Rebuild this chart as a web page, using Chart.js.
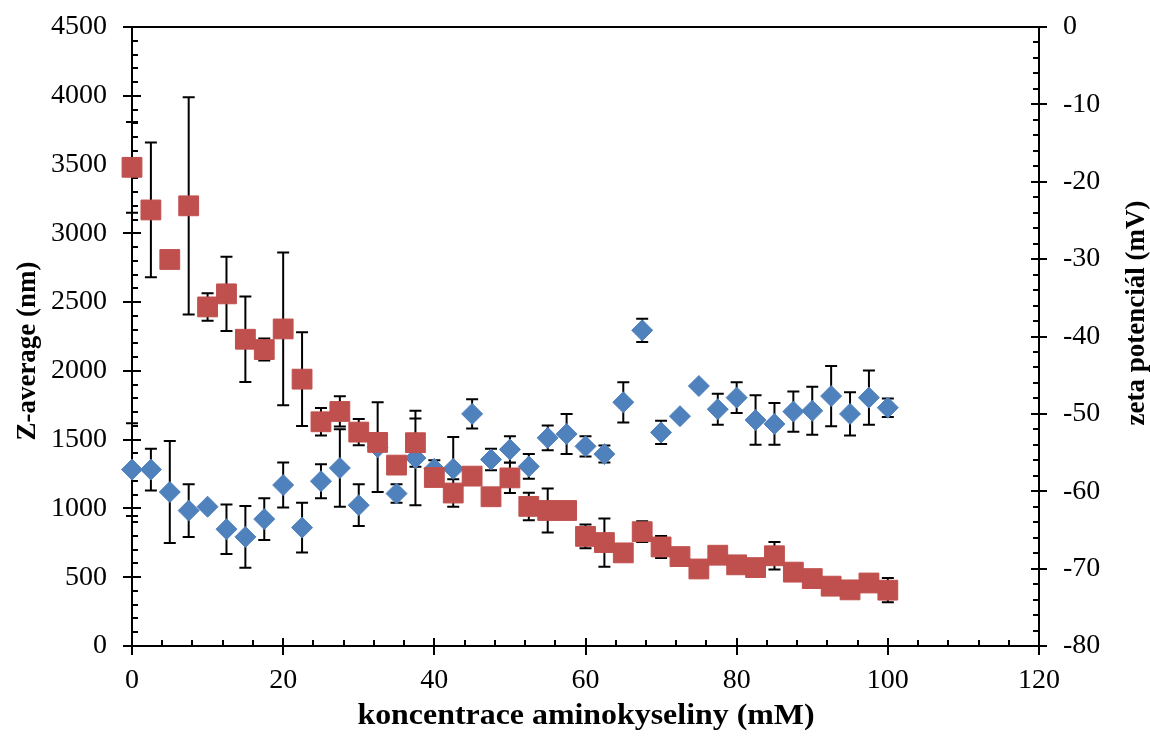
<!DOCTYPE html>
<html>
<head>
<meta charset="utf-8">
<script src="https://cdn.jsdelivr.net/npm/chart.js@4"></script>
<style>
  html, body { margin: 0; padding: 0; background: #fff; }
  #wrap { width: 1150px; height: 740px; }
</style>
</head>
<body>
<div id="wrap"><canvas id="chart" width="1150" height="740"></canvas></div>
<script>
// concentrations (mM)
const conc = [0, 2.5, 5, 7.5, 10, 12.5, 15, 17.5, 20, 22.5, 25, 27.5, 30, 32.5, 35, 37.5, 40, 42.5, 45, 47.5,
  50, 52.5, 55, 57.5, 60, 62.5, 65, 67.5, 70, 72.5, 75, 77.5, 80, 82.5, 85, 87.5, 90, 92.5, 95, 97.5, 100];

// Z-average (nm) and its error
const zAvg = [3480, 3170, 2810, 3200, 2465, 2560, 2230, 2155, 2305, 1940, 1630, 1705, 1555, 1480, 1315, 1478, 1225, 1112, 1235, 1085,
  1222, 1015, 985, 985, 797, 752, 677, 831, 720, 650, 560, 660, 590, 570, 656, 537, 490, 435, 408, 458, 406];
const zErr = [330, 490, 40, 790, 100, 270, 310, 80, 555, 340, 100, 110, 95, 40, 30, 175, 40, 100, 40, 40,
  110, 100, 160, 30, 86, 175, 30, 75, 80, 30, 30, 30, 30, 30, 100, 30, 30, 30, 30, 30, 88];

// zeta potential (mV) and its error
const zeta = [-57.2, -57.2, -60.1, -62.5, -62.0, -64.9, -65.9, -63.6, -59.2, -64.7, -58.7, -57.0, -61.8, -54.3, -60.3, -55.7, -57.1, -57.1, -50.0, -55.9,
  -54.6, -56.8, -53.1, -52.6, -54.2, -55.2, -48.5, -39.2, -52.4, -50.3, -46.4, -49.4, -47.9, -50.8, -51.3, -49.7, -49.6, -47.7, -50.0, -47.9, -49.2];
const zetaErr = [6.0, 2.7, 6.6, 3.4, 0, 3.2, 4.0, 2.7, 2.9, 3.2, 2.2, 5.0, 2.7, 5.8, 1.2, 6.1, 1.1, 4.1, 1.9, 1.4,
  1.7, 1.6, 1.6, 2.6, 1.3, 1.1, 2.6, 1.5, 1.5, 0, 0, 2.0, 2.0, 3.2, 2.7, 2.6, 3.1, 3.9, 2.8, 3.5, 1.2];

const xTitle = 'koncentrace aminokyseliny (mM)';
const yTitle = 'Z-average (nm)';
const y2Title = 'zeta potenciál (mV)';

const serif = "'Liberation Serif', 'Times New Roman', serif";

let zData = conc.map((c, i) => ({ x: c, y: zAvg[i], err: zErr[i] }));
let zetaData = conc.map((c, i) => ({ x: c, y: zeta[i], err: zetaErr[i] }));

// axes frame, tick marks (major crossing, minor inside) and error bars
const excelLook = {
  id: 'excelLook',
  beforeDatasetsDraw(chart) {
    const ctx = chart.ctx;
    const a = chart.chartArea;
    const sx = chart.scales.x, sy = chart.scales.y, sy2 = chart.scales.y2;
    ctx.save();
    ctx.strokeStyle = '#000';
    ctx.lineWidth = 2;
    ctx.beginPath();
    ctx.rect(a.left, a.top, a.right - a.left, a.bottom - a.top);
    ctx.stroke();

    ctx.beginPath();
    // bottom axis
    for (let v = 0; v <= 120; v += 4) {
      const px = Math.round(sx.getPixelForValue(v));
      if (v % 20 === 0) { ctx.moveTo(px, a.bottom - 8); ctx.lineTo(px, a.bottom + 9); }
      else { ctx.moveTo(px, a.bottom); ctx.lineTo(px, a.bottom - 6); }
    }
    // left axis
    for (let v = 0; v <= 4500; v += 100) {
      const py = Math.round(sy.getPixelForValue(v));
      if (v % 500 === 0) { ctx.moveTo(a.left - 9, py); ctx.lineTo(a.left + 9, py); }
      else { ctx.moveTo(a.left, py); ctx.lineTo(a.left + 6, py); }
    }
    // right axis
    for (let v = -80; v <= 0; v += 2) {
      const py = Math.round(sy2.getPixelForValue(v));
      if (v % 10 === 0) { ctx.moveTo(a.right - 8, py); ctx.lineTo(a.right + 8, py); }
      else { ctx.moveTo(a.right, py); ctx.lineTo(a.right - 6, py); }
    }
    ctx.stroke();

    // error bars
    ctx.beginPath();
    chart.data.datasets.forEach(ds => {
      const scale = chart.scales[ds.yAxisID];
      ds.data.forEach(p => {
        if (!p.err) return;
        const px = sx.getPixelForValue(p.x);
        const top = scale.getPixelForValue(p.y + p.err);
        const bot = scale.getPixelForValue(p.y - p.err);
        ctx.moveTo(px, top); ctx.lineTo(px, bot);
        ctx.moveTo(px - 6, top); ctx.lineTo(px + 6, top);
        ctx.moveTo(px - 6, bot); ctx.lineTo(px + 6, bot);
      });
    });
    ctx.stroke();
    ctx.restore();
  },
  afterDraw(chart) {
    const ctx = chart.ctx;
    ctx.save();
    ctx.fillStyle = '#000';
    ctx.font = "bold 29px " + serif;
    ctx.textAlign = 'center';
    ctx.textBaseline = 'alphabetic';
    ctx.translate(586, 724);
    ctx.scale(1.1, 1);
    ctx.fillText(xTitle, 0, 0);
    ctx.restore();

    ctx.save();
    ctx.fillStyle = '#000';
    ctx.font = "bold 27px " + serif;
    ctx.textAlign = 'center';
    ctx.textBaseline = 'middle';
    ctx.translate(28, 351);
    ctx.rotate(-Math.PI / 2);
    ctx.fillText(yTitle, 0, 0);
    ctx.restore();

    ctx.save();
    ctx.fillStyle = '#000';
    ctx.font = "bold 27px " + serif;
    ctx.textAlign = 'center';
    ctx.textBaseline = 'middle';
    ctx.translate(1137, 313);
    ctx.rotate(-Math.PI / 2);
    ctx.fillText(y2Title, 0, 0);
    ctx.restore();
  }
};

const tickFont = { family: serif, size: 28 };
const plain = v => String(v);

new Chart(document.getElementById('chart'), {
  type: 'scatter',
  data: {
    datasets: [
      {
        label: yTitle,
        data: zData,
        yAxisID: 'y',
        pointStyle: 'rect',
        pointRadius: 14,
        backgroundColor: '#C0504D',
        borderColor: '#C0504D',
        borderWidth: 1,
        clip: false
      },
      {
        label: y2Title,
        data: zetaData,
        yAxisID: 'y2',
        pointStyle: 'rectRot',
        pointRadius: 10.5,
        backgroundColor: '#4F81BD',
        borderColor: '#4F81BD',
        borderWidth: 1,
        clip: false
      }
    ]
  },
  options: {
    responsive: false,
    animation: false,
    layout: { padding: { top: 27, left: 0, right: 0, bottom: 0 } },
    plugins: { legend: { display: false }, tooltip: { enabled: false } },
    scales: {
      x: {
        type: 'linear', min: 0, max: 120,
        grid: { display: false, drawTicks: false },
        border: { display: false },
        ticks: { stepSize: 20, font: tickFont, color: '#000', padding: 18, maxRotation: 0, callback: plain },
        afterFit(s) { s.height = 94; s.paddingLeft = 0; s.paddingRight = 0; }
      },
      y: {
        position: 'left', min: 0, max: 4500,
        grid: { display: false, drawTicks: false },
        border: { display: false },
        ticks: { stepSize: 500, font: tickFont, color: '#000', padding: 25, callback: plain },
        afterFit(s) { s.width = 132; s.paddingTop = 0; s.paddingBottom = 0; }
      },
      y2: {
        position: 'right', min: -80, max: 0,
        grid: { display: false, drawTicks: false },
        border: { display: false },
        ticks: { stepSize: 10, font: tickFont, color: '#000', padding: 24, callback: plain },
        afterFit(s) { s.width = 111; s.paddingTop = 0; s.paddingBottom = 0; }
      }
    }
  },
  plugins: [excelLook]
});
</script>
</body>
</html>
